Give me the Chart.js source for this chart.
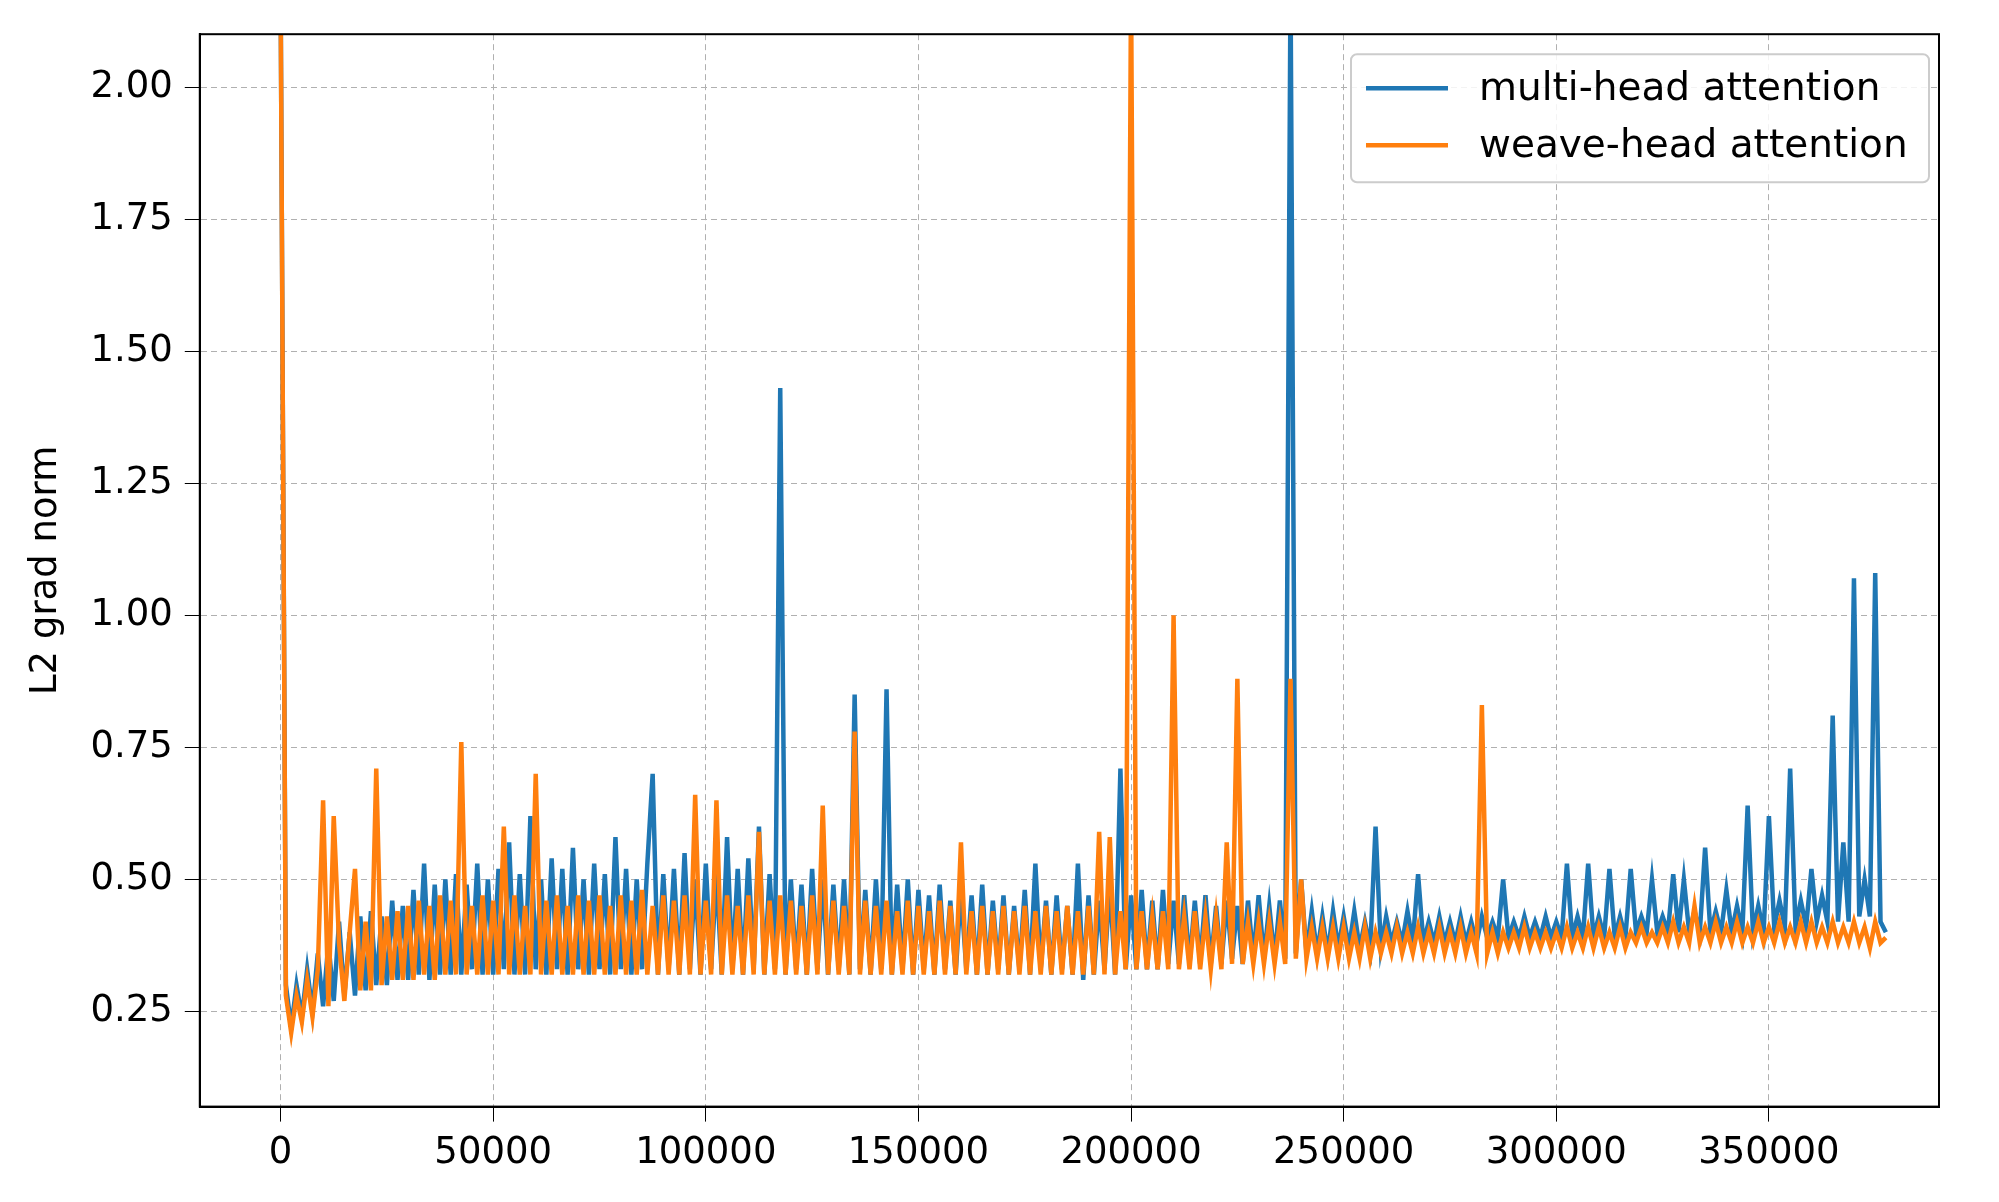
<!DOCTYPE html>
<html lang="en">
<head>
  <meta charset="UTF-8" />
  <title>L2 grad norm</title>
  <script src="https://cdn.jsdelivr.net/npm/chart.js"></script>
  <style>
    html, body { margin: 0; padding: 0; background: #fff; }
    #wrap { width: 1999px; height: 1202px; }
  </style>
</head>
<body>
<div id="wrap"><canvas id="gradChart"></canvas></div>
<script>
  const steps = [
    0, 1250, 2500, 3750, 5000, 6250, 7500, 8750,
    10000, 11250, 12500, 13750, 15000, 16250, 17500, 18750,
    20000, 21250, 22500, 23750, 25000, 26250, 27500, 28750,
    30000, 31250, 32500, 33750, 35000, 36250, 37500, 38750,
    40000, 41250, 42500, 43750, 45000, 46250, 47500, 48750,
    50000, 51250, 52500, 53750, 55000, 56250, 57500, 58750,
    60000, 61250, 62500, 63750, 65000, 66250, 67500, 68750,
    70000, 71250, 72500, 73750, 75000, 76250, 77500, 78750,
    80000, 81250, 82500, 83750, 85000, 86250, 87500, 88750,
    90000, 91250, 92500, 93750, 95000, 96250, 97500, 98750,
    100000, 101250, 102500, 103750, 105000, 106250, 107500, 108750,
    110000, 111250, 112500, 113750, 115000, 116250, 117500, 118750,
    120000, 121250, 122500, 123750, 125000, 126250, 127500, 128750,
    130000, 131250, 132500, 133750, 135000, 136250, 137500, 138750,
    140000, 141250, 142500, 143750, 145000, 146250, 147500, 148750,
    150000, 151250, 152500, 153750, 155000, 156250, 157500, 158750,
    160000, 161250, 162500, 163750, 165000, 166250, 167500, 168750,
    170000, 171250, 172500, 173750, 175000, 176250, 177500, 178750,
    180000, 181250, 182500, 183750, 185000, 186250, 187500, 188750,
    190000, 191250, 192500, 193750, 195000, 196250, 197500, 198750,
    200000, 201250, 202500, 203750, 205000, 206250, 207500, 208750,
    210000, 211250, 212500, 213750, 215000, 216250, 217500, 218750,
    220000, 221250, 222500, 223750, 225000, 226250, 227500, 228750,
    230000, 231250, 232500, 233750, 235000, 236250, 237500, 238750,
    240000, 241250, 242500, 243750, 245000, 246250, 247500, 248750,
    250000, 251250, 252500, 253750, 255000, 256250, 257500, 258750,
    260000, 261250, 262500, 263750, 265000, 266250, 267500, 268750,
    270000, 271250, 272500, 273750, 275000, 276250, 277500, 278750,
    280000, 281250, 282500, 283750, 285000, 286250, 287500, 288750,
    290000, 291250, 292500, 293750, 295000, 296250, 297500, 298750,
    300000, 301250, 302500, 303750, 305000, 306250, 307500, 308750,
    310000, 311250, 312500, 313750, 315000, 316250, 317500, 318750,
    320000, 321250, 322500, 323750, 325000, 326250, 327500, 328750,
    330000, 331250, 332500, 333750, 335000, 336250, 337500, 338750,
    340000, 341250, 342500, 343750, 345000, 346250, 347500, 348750,
    350000, 351250, 352500, 353750, 355000, 356250, 357500, 358750,
    360000, 361250, 362500, 363750, 365000, 366250, 367500, 368750,
    370000, 371250, 372500, 373750, 375000, 376250, 377500];

  const multiHead = [
    2.2, 0.30, 0.22, 0.30, 0.24, 0.33, 0.25, 0.36,
    0.26, 0.38, 0.27, 0.42, 0.28, 0.40, 0.28, 0.43,
    0.29, 0.44, 0.30, 0.43, 0.30, 0.46, 0.31, 0.45,
    0.31, 0.48, 0.32, 0.53, 0.31, 0.49, 0.32, 0.50,
    0.32, 0.51, 0.32, 0.49, 0.33, 0.53, 0.32, 0.50,
    0.32, 0.52, 0.33, 0.57, 0.32, 0.51, 0.32, 0.62,
    0.33, 0.50, 0.32, 0.54, 0.33, 0.52, 0.32, 0.56,
    0.33, 0.50, 0.32, 0.53, 0.33, 0.51, 0.32, 0.58,
    0.33, 0.52, 0.32, 0.50, 0.33, 0.53, 0.70, 0.32,
    0.51, 0.33, 0.52, 0.32, 0.55, 0.33, 0.50, 0.32,
    0.53, 0.33, 0.51, 0.32, 0.58, 0.33, 0.52, 0.32,
    0.54, 0.33, 0.60, 0.32, 0.51, 0.33, 1.43, 0.32,
    0.50, 0.33, 0.49, 0.32, 0.52, 0.33, 0.50, 0.32,
    0.49, 0.33, 0.50, 0.32, 0.85, 0.33, 0.48, 0.32,
    0.50, 0.33, 0.86, 0.32, 0.49, 0.33, 0.50, 0.32,
    0.48, 0.33, 0.47, 0.32, 0.49, 0.33, 0.46, 0.32,
    0.48, 0.33, 0.47, 0.32, 0.49, 0.32, 0.46, 0.33,
    0.47, 0.32, 0.45, 0.33, 0.48, 0.32, 0.53, 0.33,
    0.46, 0.32, 0.47, 0.33, 0.45, 0.32, 0.53, 0.31,
    0.47, 0.32, 0.46, 0.33, 0.49, 0.32, 0.71, 0.33,
    0.47, 0.33, 0.48, 0.33, 0.46, 0.33, 0.48, 0.34,
    0.46, 0.34, 0.47, 0.34, 0.46, 0.34, 0.47, 0.34,
    0.45, 0.34, 0.46, 0.35, 0.45, 0.34, 0.46, 0.35,
    0.47, 0.35, 0.45, 0.35, 0.46, 0.35, 2.2, 0.36,
    0.50, 0.36, 0.44, 0.36, 0.43, 0.36, 0.44, 0.37,
    0.43, 0.37, 0.44, 0.37, 0.42, 0.37, 0.60, 0.37,
    0.43, 0.38, 0.42, 0.38, 0.44, 0.38, 0.51, 0.38,
    0.42, 0.38, 0.43, 0.38, 0.42, 0.38, 0.43, 0.38,
    0.42, 0.38, 0.43, 0.39, 0.42, 0.39, 0.50, 0.39,
    0.42, 0.39, 0.43, 0.39, 0.42, 0.39, 0.43, 0.39,
    0.42, 0.39, 0.53, 0.39, 0.43, 0.39, 0.53, 0.39,
    0.43, 0.39, 0.52, 0.39, 0.43, 0.39, 0.52, 0.40,
    0.43, 0.40, 0.50, 0.40, 0.43, 0.40, 0.51, 0.40,
    0.50, 0.40, 0.44, 0.40, 0.56, 0.40, 0.44, 0.40,
    0.48, 0.40, 0.45, 0.40, 0.64, 0.40, 0.45, 0.40,
    0.62, 0.41, 0.46, 0.41, 0.71, 0.41, 0.46, 0.41,
    0.52, 0.42, 0.47, 0.42, 0.81, 0.42, 0.57, 0.42,
    1.07, 0.43, 0.50, 0.43, 1.08, 0.42, 0.40];

  const weaveHead = [
    2.2, 0.28, 0.21, 0.28, 0.23, 0.31, 0.24, 0.33,
    0.65, 0.26, 0.62, 0.38, 0.27, 0.40, 0.52, 0.29,
    0.42, 0.29, 0.71, 0.30, 0.43, 0.31, 0.44, 0.31,
    0.45, 0.31, 0.46, 0.32, 0.45, 0.31, 0.47, 0.32,
    0.46, 0.32, 0.76, 0.32, 0.45, 0.32, 0.47, 0.32,
    0.46, 0.32, 0.60, 0.32, 0.47, 0.32, 0.45, 0.32,
    0.70, 0.32, 0.46, 0.32, 0.47, 0.32, 0.45, 0.32,
    0.47, 0.32, 0.46, 0.32, 0.47, 0.32, 0.45, 0.32,
    0.47, 0.32, 0.46, 0.32, 0.48, 0.32, 0.45, 0.32,
    0.47, 0.32, 0.46, 0.32, 0.47, 0.32, 0.66, 0.32,
    0.46, 0.32, 0.65, 0.32, 0.47, 0.32, 0.45, 0.32,
    0.47, 0.32, 0.59, 0.32, 0.46, 0.32, 0.47, 0.32,
    0.46, 0.32, 0.45, 0.32, 0.47, 0.32, 0.64, 0.32,
    0.46, 0.32, 0.45, 0.32, 0.78, 0.32, 0.46, 0.32,
    0.45, 0.32, 0.46, 0.32, 0.44, 0.32, 0.46, 0.32,
    0.45, 0.32, 0.44, 0.32, 0.46, 0.32, 0.45, 0.32,
    0.57, 0.32, 0.44, 0.32, 0.45, 0.32, 0.44, 0.32,
    0.45, 0.32, 0.44, 0.32, 0.45, 0.32, 0.44, 0.32,
    0.45, 0.32, 0.44, 0.32, 0.45, 0.32, 0.44, 0.32,
    0.45, 0.32, 0.59, 0.32, 0.58, 0.32, 0.44, 0.33,
    2.2, 0.33, 0.44, 0.33, 0.43, 0.33, 0.44, 0.33,
    1.00, 0.33, 0.43, 0.33, 0.44, 0.33, 0.43, 0.33,
    0.43, 0.33, 0.57, 0.34, 0.88, 0.34, 0.42, 0.34,
    0.42, 0.34, 0.42, 0.34, 0.42, 0.34, 0.88, 0.35,
    0.50, 0.35, 0.41, 0.35, 0.41, 0.35, 0.41, 0.35,
    0.41, 0.35, 0.40, 0.35, 0.41, 0.35, 0.40, 0.36,
    0.40, 0.36, 0.41, 0.36, 0.40, 0.36, 0.41, 0.36,
    0.40, 0.36, 0.41, 0.36, 0.40, 0.36, 0.41, 0.36,
    0.40, 0.36, 0.83, 0.36, 0.40, 0.36, 0.40, 0.37,
    0.40, 0.37, 0.41, 0.37, 0.40, 0.37, 0.40, 0.37,
    0.40, 0.37, 0.41, 0.37, 0.40, 0.37, 0.41, 0.37,
    0.41, 0.37, 0.40, 0.37, 0.41, 0.37, 0.40, 0.38,
    0.41, 0.38, 0.40, 0.38, 0.41, 0.38, 0.42, 0.38,
    0.41, 0.38, 0.45, 0.38, 0.41, 0.38, 0.42, 0.38,
    0.41, 0.38, 0.42, 0.38, 0.41, 0.38, 0.42, 0.38,
    0.41, 0.38, 0.42, 0.38, 0.41, 0.38, 0.42, 0.38,
    0.42, 0.38, 0.41, 0.38, 0.42, 0.38, 0.41, 0.38,
    0.42, 0.38, 0.41, 0.37, 0.42, 0.38, 0.39];

  const yTicks = [0.25, 0.5, 0.75, 1.0, 1.25, 1.5, 1.75, 2.0];
  const xTicks = [0, 50000, 100000, 150000, 200000, 250000, 300000, 350000];
  const seriesNames = ['multi-head attention', 'weave-head attention'];
  const colors = ['#1f77b4', '#ff7f0e'];

  const font = { family: 'DejaVu Sans', size: 37 };

  // legend box drawn inside the plot, top right, like matplotlib
  const boxLegend = {
    id: 'boxLegend',
    afterDraw(chart) {
      const { ctx, chartArea } = chart;
      const w = 578, h = 128;
      const x = chartArea.right - w - 10, y = chartArea.top + 20;
      ctx.save();
      ctx.fillStyle = 'rgba(255,255,255,0.85)';
      ctx.strokeStyle = '#cccccc';
      ctx.lineWidth = 2;
      ctx.beginPath();
      ctx.roundRect(x, y, w, h, 6);
      ctx.fill();
      ctx.stroke();
      ctx.font = '39px "DejaVu Sans"';
      ctx.textBaseline = 'middle';
      seriesNames.forEach((name, i) => {
        const ly = y + 34 + i * 57;
        ctx.strokeStyle = colors[i];
        ctx.lineWidth = 4.5;
        ctx.beginPath();
        ctx.moveTo(x + 15, ly);
        ctx.lineTo(x + 97, ly);
        ctx.stroke();
        ctx.fillStyle = '#000';
        ctx.fillText(name, x + 128, ly + 2);
      });
      ctx.restore();
    }
  };

  new Chart(document.getElementById('gradChart'), {
    type: 'line',
    data: {
      labels: steps,
      datasets: [
        { label: seriesNames[0], data: multiHead, borderColor: colors[0], borderWidth: 4.5, order: 1 },
        { label: seriesNames[1], data: weaveHead, borderColor: colors[1], borderWidth: 4.5, order: 0 }
      ]
    },
    options: {
      responsive: true,
      maintainAspectRatio: false,
      animation: false,
      devicePixelRatio: 1,
      elements: { point: { radius: 0 }, line: { tension: 0 } },
      layout: { padding: { left: 14, right: 60, top: 14, bottom: 16 } },
      plugins: { legend: { display: false }, tooltip: { enabled: false } },
      scales: {
        x: {
          type: 'linear',
          min: -19000,
          max: 390000,
          afterBuildTicks: (s) => { s.ticks = xTicks.map(v => ({ value: v })); },
          ticks: { color: '#000', font: font, maxRotation: 0, padding: 10,
                   callback: v => String(v) },
          grid: { color: '#b0b0b0', tickColor: '#000', tickLength: 15 },
          border: { color: '#000', width: 2, dash: [6, 4] }
        },
        y: {
          min: 0.07,
          max: 2.1,
          afterBuildTicks: (s) => { s.ticks = yTicks.map(v => ({ value: v })); },
          ticks: { color: '#000', font: font, padding: 12, callback: v => v.toFixed(2) },
          grid: { color: '#b0b0b0', tickColor: '#000', tickLength: 15 },
          border: { color: '#000', width: 2, dash: [6, 4] },
          title: { display: true, text: 'L2 grad norm', color: '#000', font: font, padding: 10 }
        }
      }
    },
    plugins: [boxLegend, {
      id: 'frame',
      afterDraw(chart) {
        const { ctx, chartArea: a } = chart;
        ctx.save();
        ctx.strokeStyle = '#000';
        ctx.lineWidth = 2;
        ctx.strokeRect(a.left, a.top, a.right - a.left, a.bottom - a.top);
        ctx.restore();
      }
    }]
  });
</script>
</body>
</html>
